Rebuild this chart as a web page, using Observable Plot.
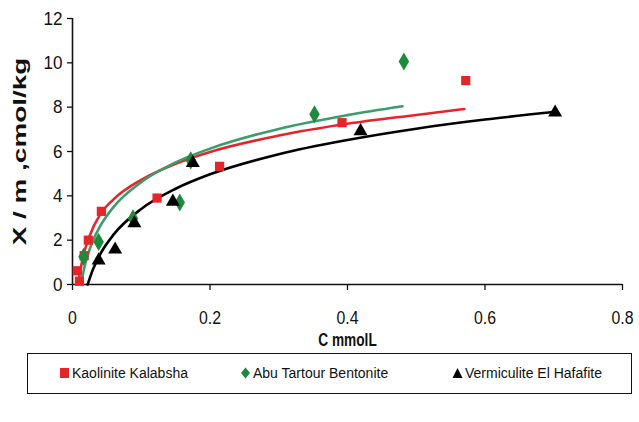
<!DOCTYPE html>
<html>
<head>
<meta charset="utf-8">
<script src="https://cdn.jsdelivr.net/npm/d3@7"></script>
<script src="https://cdn.jsdelivr.net/npm/@observablehq/plot@0.6"></script>
<style>
  html, body { margin: 0; padding: 0; background: #fff; }
  #wrap { position: relative; width: 639px; height: 422px; }
  #legend { position: absolute; left: 27px; top: 353px; width: 605px; height: 41px;
            border: 1.3px solid #111; box-sizing: border-box;
            font-family: "Liberation Sans", Arial, sans-serif; font-size: 14px; color: #111; }
  .item { position: absolute; top: 11px; white-space: nowrap; }
  .item svg { vertical-align: -1px; margin-right: 2px; }
</style>
</head>
<body>
<div id="wrap"><div id="chart"></div><div id="legend"></div></div>
<script>
// Series names
const seriesNames = ["Kaolinite Kalabsha", "Abu Tartour Bentonite", "Vermiculite El Hafafite"];

// Measured points (C mmol/L, X/m cmol/kg)
const kaolX = [0.007, 0.010, 0.017, 0.023, 0.042, 0.123, 0.214, 0.392, 0.572];
const kaolY = [0.62, 0.15, 1.30, 2.00, 3.30, 3.90, 5.33, 7.30, 9.20];

const abuX = [0.016, 0.038, 0.088, 0.156, 0.172, 0.352, 0.482];
const abuY = [1.25, 1.92, 2.98, 3.70, 5.60, 7.68, 10.06];

const vermX = [0.038, 0.062, 0.090, 0.146, 0.175, 0.419, 0.702];
const vermY = [1.09, 1.58, 2.76, 3.74, 5.48, 6.92, 7.76];

// Fitted trend curves
const kaolFitX = [0.008, 0.015, 0.025, 0.04, 0.06, 0.1, 0.15, 0.2, 0.3, 0.4, 0.5, 0.57];
const kaolFitY = [0, 1.20, 2.20, 3.15, 3.85, 4.72, 5.45, 5.98, 6.72, 7.25, 7.65, 7.92];

const abuFitX = [0.012, 0.02, 0.03, 0.04, 0.06, 0.1, 0.15, 0.2, 0.3, 0.4, 0.48];
const abuFitY = [0, 1.11, 2.00, 2.62, 3.51, 4.62, 5.51, 6.13, 7.02, 7.64, 8.04];

const vermFitX = [0.022, 0.03, 0.04, 0.06, 0.1, 0.15, 0.2, 0.3, 0.4, 0.5, 0.6, 0.7];
const vermFitY = [0, 0.70, 1.35, 2.26, 3.41, 4.32, 4.97, 5.88, 6.52, 7.03, 7.44, 7.78];

const xTicks = [0, 0.2, 0.4, 0.6, 0.8];
const yTicks = [0, 2, 4, 6, 8, 10, 12];

const colors = {red: "#e4262b", green: "#1e8a3c", greenLine: "#3c9c6c", black: "#000"};

const pts = (xs, ys) => xs.map((x, i) => ({x, y: ys[i]}));

const font = `"Liberation Sans", Arial, sans-serif`;
const xFmt = d => d === 0 ? "0" : d.toFixed(1);

const chart = Plot.plot({
  width: 639,
  height: 350,
  marginTop: 18,
  marginBottom: 66,
  marginLeft: 72,
  marginRight: 17,
  style: {fontFamily: font, fontSize: "15px", color: "#111", background: "#fff", overflow: "visible"},
  x: {domain: [0, 0.8], ticks: xTicks, tickFormat: xFmt, label: null},
  y: {domain: [0, 12], ticks: yTicks, label: null},
  marks: [
    Plot.axisX({ticks: xTicks, tickFormat: xFmt, tickSize: 6, tickPadding: 21,
                fontSize: 18, label: null, stroke: "#111", strokeWidth: 1.3}),
    Plot.axisY({ticks: yTicks, tickSize: 5, tickPadding: 5, fontSize: 19, label: null, stroke: "#111", strokeWidth: 1.3}),
    Plot.ruleY([0], {stroke: "#111", strokeWidth: 1.6}),
    Plot.ruleX([0], {stroke: "#111", strokeWidth: 1.6}),
    Plot.line(pts(kaolFitX, kaolFitY), {x: "x", y: "y", stroke: colors.red, strokeWidth: 2.6, curve: "monotone-x"}),
    Plot.line(pts(abuFitX, abuFitY), {x: "x", y: "y", stroke: colors.greenLine, strokeWidth: 2.6, curve: "monotone-x"}),
    Plot.line(pts(vermFitX, vermFitY), {x: "x", y: "y", stroke: colors.black, strokeWidth: 2.6, curve: "monotone-x"}),
    Plot.dot(pts(kaolX, kaolY), {x: "x", y: "y", symbol: "square", r: 5.2, fill: colors.red}),
    Plot.dot(pts(abuX, abuY), {x: "x", y: "y", symbol: "diamond", r: 5.5, fill: colors.green}),
    Plot.dot(pts(vermX, vermY), {x: "x", y: "y", symbol: "triangle", r: 5.2, fill: colors.black}),
    Plot.text(["C mmolL"], {frameAnchor: "bottom", dy: 55, lineAnchor: "middle", textAnchor: "middle",
      fontSize: 19, fontWeight: "bold", fill: "#111"}),
    Plot.text(["X / m ,cmol/kg"], {frameAnchor: "left", dx: -52, rotate: -90, textAnchor: "middle", lineAnchor: "middle",
      fontSize: 18, fontWeight: "bold", fill: "#111"})
  ]
});
document.getElementById("chart").appendChild(chart);

// Adjust glyph proportions (the reference's text is condensed horizontally)
function fit(el, factor) {
  const len = el.getComputedTextLength();
  if (len > 0) {
    el.setAttribute("textLength", (len * factor).toFixed(1));
    el.setAttribute("lengthAdjust", "spacingAndGlyphs");
  }
}
const svgEl = chart.tagName.toLowerCase() === "svg" ? chart : chart.querySelector("svg");
const svgTop = svgEl.getBoundingClientRect().top;
const xLabels = new Set(xTicks.map(xFmt));
const yLabels = new Set(yTicks.map(String));
svgEl.querySelectorAll("text").forEach(el => {
  const s = el.textContent;
  const r = el.getBoundingClientRect();
  if (s === "C mmolL") fit(el, 0.72);
  else if (s === "X / m ,cmol/kg") fit(el, 1.55);
  else if (xLabels.has(s) && r.top - svgTop > 288) fit(el, 0.88);
  else if (yLabels.has(s) && r.right < 72) fit(el, 0.9);
});

// Legend
const legend = document.getElementById("legend");
const legendItems = [
  {name: seriesNames[0], left: 31, sym: `<rect x="1" y="1" width="9" height="10" fill="${colors.red}"/>`},
  {name: seriesNames[1], left: 212, sym: `<path d="M5.5 0.5 L10 6 L5.5 11.5 L1 6 Z" fill="${colors.green}"/>`},
  {name: seriesNames[2], left: 424, sym: `<path d="M5.5 1 L10.5 11 L0.5 11 Z" fill="#000"/>`}
];
for (const it of legendItems) {
  const d = document.createElement("div");
  d.className = "item";
  d.style.left = it.left + "px";
  d.innerHTML = `<svg width="11" height="12">${it.sym}</svg>${it.name}`;
  legend.appendChild(d);
}
</script>
</body>
</html>
